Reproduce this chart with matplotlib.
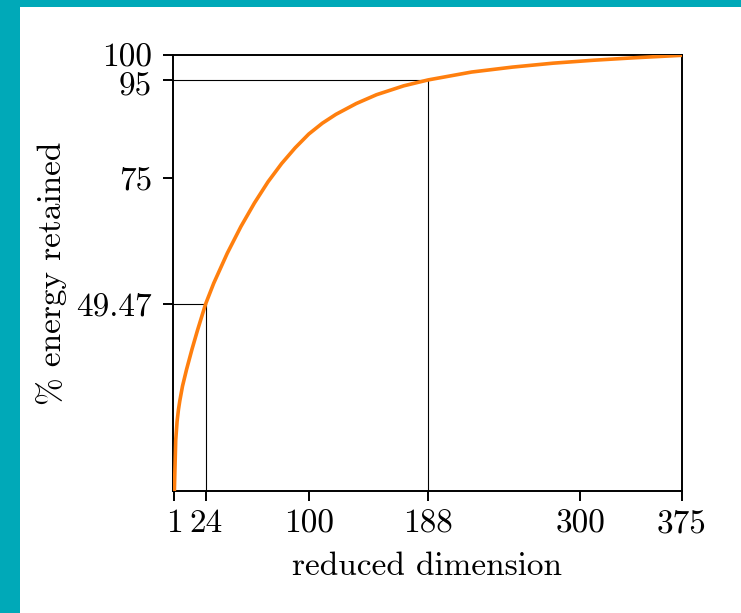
import matplotlib
matplotlib.use("Agg")
import matplotlib.pyplot as plt
from matplotlib.patches import Rectangle
from matplotlib.transforms import ScaledTranslation

# Cumulative energy retained versus number of kept dimensions
dims = [1, 2, 3, 4, 5, 7, 10, 14, 18, 24, 30, 40, 50, 60, 70, 80, 90, 100,
        110, 120, 135, 150, 170, 188, 220, 250, 280, 310, 340, 375]
energy = [11.5, 21.8, 25.6, 28.0, 29.8, 32.8, 36.2, 40.3, 44.1, 49.47, 53.7,
          59.8, 65.2, 70.0, 74.3, 78.0, 81.2, 84.0, 86.2, 88.0, 90.2, 92.0,
          93.8, 95.0, 96.6, 97.6, 98.4, 99.0, 99.5, 100.0]

# Marked operating points
mark_dims = [24, 188]
mark_energy = [49.47, 95]

x_ticks = [1, 24, 100, 188, 300, 375]
y_ticks = [49.47, 75, 95, 100]
y_tick_labels = ["49.47", "75", "95", "100"]

plt.rcParams["font.family"] = "serif"
plt.rcParams["font.serif"] = ["cmr10"]
plt.rcParams["mathtext.fontset"] = "cm"
plt.rcParams["axes.unicode_minus"] = False

fig = plt.figure(figsize=(7.41, 6.13), dpi=100)
fig.patch.set_facecolor("white")

# teal frame along the top and left edges
teal = "#00a9b8"
fig.patches.append(Rectangle((0, 1 - 7 / 613), 1, 7 / 613, transform=fig.transFigure,
                             facecolor=teal, edgecolor="none", zorder=0))
fig.patches.append(Rectangle((0, 0), 20 / 741, 1, transform=fig.transFigure,
                             facecolor=teal, edgecolor="none", zorder=0))

ax = fig.add_axes([173 / 741, 1 - 491 / 613, (682 - 173) / 741, (491 - 55.3) / 613])

ax.plot(dims, energy, color="#ff7f0e", lw=2.6, zorder=3, solid_capstyle="butt",
        solid_joinstyle="round")

for xd, yd in zip(mark_dims, mark_energy):
    ax.plot([0, xd], [yd, yd], color="black", lw=0.8, zorder=2)
    ax.plot([xd, xd], [energy[0], yd], color="black", lw=0.8, zorder=2)

ax.set_xlim(0, 375)
ax.set_ylim(energy[0], 100)
ax.set_xticks(x_ticks)
ax.set_xticklabels([str(t) for t in x_ticks])
ax.set_yticks(y_ticks)
ax.set_yticklabels(y_tick_labels)

for s in ax.spines.values():
    s.set_linewidth(1.4)
ax.tick_params(direction="out", length=7, width=1.4, labelsize=24)
ax.tick_params(axis="x", pad=6)
ax.tick_params(axis="y", pad=8)

# keep the closely spaced "95" and "100" labels from colliding
for lbl in ax.get_yticklabels():
    if lbl.get_text() == "95":
        lbl.set_transform(lbl.get_transform() +
                          ScaledTranslation(0, -3 / 72, fig.dpi_scale_trans))

ax.set_xlabel("reduced dimension", fontsize=24, labelpad=10)
ax.set_ylabel("% energy retained", fontsize=24, labelpad=7)

fig.savefig("out.png", dpi=100, facecolor=fig.get_facecolor())
